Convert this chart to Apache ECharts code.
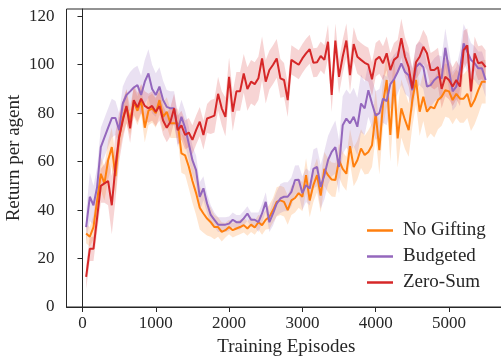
<!DOCTYPE html>
<html>
<head>
<meta charset="utf-8">
<script src="https://cdn.jsdelivr.net/npm/echarts@6/dist/echarts.min.js"></script>
<style>
  html, body { margin: 0; padding: 0; background: #fff; }
  #chart { width: 501px; height: 362px; }
</style>
</head>
<body>
<div id="chart"></div>
<script>
const episodes = [
  50, 100, 150, 200, 250, 300, 350, 400, 450, 500, 550, 600, 650, 700, 750, 800, 850, 900,
  950, 1000, 1050, 1100, 1150, 1200, 1250, 1300, 1350, 1400, 1450, 1500, 1550, 1600, 1650, 1700, 1750, 1800, 1850, 1900,
  1950, 2000, 2050, 2100, 2150, 2200, 2250, 2300, 2350, 2400, 2450, 2500, 2550, 2600, 2650, 2700, 2750, 2800, 2850, 2900, 2950,
  3000, 3050, 3100, 3150, 3200, 3250, 3300, 3350, 3400, 3450, 3500, 3550, 3600, 3650, 3700, 3750, 3800, 3850, 3900, 3950,
  4000, 4050, 4100, 4150, 4200, 4250, 4300, 4350, 4400, 4450, 4500, 4550, 4600, 4650, 4700, 4750, 4800, 4850, 4900, 4950, 5000,
  5050, 5100, 5150, 5200, 5250, 5300, 5350, 5400, 5450, 5500
];

const noGifting = [
  30.3, 29, 33, 44, 55, 51, 60.6, 66, 54, 70, 78, 82.6, 77, 84.7, 81, 85.4, 74, 81,
  82, 80, 85.4, 78.5, 80.6, 75.8, 75.8, 75.8, 63.4, 62.6, 58, 52, 47, 41, 38.6, 36.5, 35, 33, 33, 31,
  31.7, 33, 31.7, 32.4, 33, 33.8, 32.4, 34, 32.8, 35, 33.8, 36, 37.2, 40, 43.4, 44, 43.4, 40, 44, 45, 47,
  45.5, 54.4, 44, 50.3, 54.4, 46, 57, 54.4, 52.6, 52.4, 60.6, 57, 55, 66.4, 57.8, 60.6, 65.4, 62.7, 64, 66.8,
  80, 64.7, 84, 93.7, 71, 93.7, 69.6, 82, 77.2, 73, 85.4, 93.7, 80.6, 86.8, 80.6, 82.6, 82, 85.4, 86.8, 89.5, 89,
  85.4, 88, 86, 86, 88, 82.6, 85.4, 89.5, 93, 93
];
const budgeted = [
  33, 45.5, 42, 49.6, 66, 70, 74, 78, 78, 73, 84, 87.5, 89, 90.6, 91.6, 87.5, 93, 96.4,
  90, 87.5, 91, 85.4, 82.6, 82, 82, 73, 78.5, 74, 67.5, 60.6, 56.5, 45.5, 49, 42.7, 38, 36, 34, 34,
  34, 34.4, 36, 35, 35, 36.6, 38.6, 36, 36, 35, 38.6, 43.4, 35, 38.6, 42.7, 44.8, 45.5, 45.5, 47.5, 52.4, 52.5,
  47, 50.3, 48.9, 57, 57.8, 49.6, 54.4, 60.6, 64, 66, 57.8, 75, 77.8, 75.8, 78.5, 74.4, 84, 82, 89.5, 84,
  79, 80, 86, 85, 92, 94, 97, 100.6, 97, 95.7, 89.5, 99, 100.6, 99, 91, 91.6, 93.7, 95, 94.4, 107, 97.8,
  89, 91, 97.8, 108.8, 105.4, 102, 100.6, 98.5, 98.5, 93.7
];
const zeroSum = [
  12.4, 24, 24, 37, 50, 51, 52, 42, 58, 70, 77, 83, 73.7, 85.4, 82.4, 86, 83, 82,
  83, 80.6, 83, 77, 74, 76.5, 82, 73, 75, 71, 72, 69, 73, 76.5, 71, 77.8, 78.4, 79, 88, 82,
  78.5, 95, 80.6, 89, 89, 96.4, 90, 93, 92, 94.4, 102.6, 93, 97.8, 100, 102.6, 94.4, 93.7, 85.4, 102, 101, 100,
  102.6, 104.7, 106.4, 100.8, 101, 103.6, 102, 109.5, 87.5, 110, 95, 103.3, 110, 95.7, 108.5, 103.3, 102, 100.8, 100, 94,
  102, 103.3, 100.6, 104.7, 97.8, 102, 103.3, 111, 103.3, 99, 90.2, 101, 103.3, 107.4, 104.7, 97.8, 97.8, 99, 90, 95, 93.7,
  91, 93.7, 91, 106, 108, 89, 104.7, 100.6, 101, 99
];

// half-width of the shaded band around each curve
const noGiftingSpread = [
  4, 4, 5, 6, 7, 7, 8, 8, 8, 7, 7, 7, 6, 6, 6, 6, 6, 6,
  6, 6, 6, 6, 6, 6, 6, 6, 8, 8, 9, 9, 9, 9, 8, 7, 6, 5, 4, 4,
  3, 3, 3, 3, 3, 3, 3, 3, 3, 3, 4, 4, 5, 5, 6, 6, 6, 6, 6, 6, 6,
  6, 7, 7, 7, 7, 7, 7, 7, 7, 7, 7, 7, 7, 7, 8, 8, 8, 8, 9, 9,
  10, 10, 10, 11, 11, 12, 12, 12, 12, 11, 11, 10, 10, 10, 11, 11, 12, 12, 12, 11, 11,
  10, 10, 10, 10, 10, 10, 10, 10, 9, 9
];
const budgetedSpread = [
  6, 10, 8, 8, 8, 8, 8, 8, 7, 7, 7, 7, 8, 8, 8, 8, 9, 10,
  10, 9, 8, 8, 7, 7, 7, 7, 7, 7, 7, 6, 6, 6, 5, 4, 4, 3, 3, 3,
  3, 3, 3, 3, 3, 3, 3, 3, 3, 4, 4, 4, 4, 5, 5, 6, 6, 6, 6, 6, 6,
  7, 7, 7, 8, 8, 9, 10, 10, 10, 11, 11, 12, 12, 12, 12, 12, 12, 11, 11, 10,
  10, 10, 10, 10, 10, 10, 9, 9, 9, 9, 9, 9, 9, 9, 9, 9, 9, 9, 9, 8, 8,
  8, 8, 8, 8, 8, 7, 7, 7, 7, 7
];
const zeroSumSpread = [
  5, 5, 5, 6, 7, 8, 10, 12, 14, 10, 8, 7, 6, 6, 6, 6, 6, 6,
  6, 6, 6, 6, 6, 6, 6, 6, 6, 6, 6, 6, 6, 6, 6, 6, 7, 7, 7, 7,
  8, 8, 8, 8, 8, 8, 9, 9, 9, 9, 9, 9, 8, 8, 8, 8, 7, 7, 6, 6, 6,
  6, 6, 6, 6, 6, 6, 6, 7, 7, 7, 7, 7, 7, 7, 7, 7, 7, 7, 7, 7,
  7, 7, 7, 7, 7, 7, 7, 8, 8, 8, 8, 7, 7, 7, 7, 7, 8, 8, 8, 8, 8,
  8, 8, 8, 8, 7, 7, 7, 7, 7, 7
];

const xTicks = [0, 1000, 2000, 3000, 4000, 5000];
const yTicks = [0, 20, 40, 60, 80, 100, 120];

const font = "'Liberation Serif', 'DejaVu Serif', serif";
const axisColor = "#262626";

function band(name, mean, spread, fill) {
  return {
    type: "custom",
    name: name + " band",
    silent: true,
    z: 1,
    data: episodes.map((x, i) => [x, mean[i] - spread[i], mean[i] + spread[i]]),
    encode: { x: 0, y: [1, 2] },
    renderItem: (params, api) => {
      if (params.dataIndex !== 0) return;
      const upper = episodes.map((x, i) => api.coord([x, mean[i] + spread[i]]));
      const lower = episodes.map((x, i) => api.coord([x, mean[i] - spread[i]]));
      return {
        type: "polygon",
        shape: { points: upper.concat(lower.reverse()) },
        style: { fill: fill },
      };
    },
  };
}

function line(name, mean, color) {
  return {
    type: "line",
    name: name,
    z: 3,
    data: episodes.map((x, i) => [x, mean[i]]),
    showSymbol: false,
    lineStyle: { color: color, width: 2 },
    itemStyle: { color: color },
  };
}

const chart = echarts.init(document.getElementById("chart"), null, { renderer: "canvas" });
chart.setOption({
  animation: false,
  grid: {
    left: 66.5, right: -5, top: 9, bottom: 55,
    outerBoundsMode: "none",
    containLabel: false,
    show: true, borderColor: axisColor, borderWidth: 1,
  },
  legend: {
    orient: "vertical",
    left: 362, top: 216,
    itemWidth: 26, itemHeight: 2.5, itemGap: 7,
    icon: "rect",
    data: ["No Gifting", "Budgeted", "Zero-Sum"],
    textStyle: { fontFamily: font, fontSize: 19, color: "#262626", padding: [0, 0, 0, 5] },
  },
  xAxis: {
    type: "value",
    min: -218, max: 5778,
    name: "Training Episodes",
    nameLocation: "middle",
    nameGap: 31,
    nameMoveOverlap: false,
    nameTextStyle: { fontFamily: font, fontSize: 19, color: "#262626" },
    splitLine: { show: false },
    axisLine: { lineStyle: { color: axisColor, width: 1 } },
    axisTick: { length: 5, lineStyle: { color: axisColor }, customValues: xTicks },
    axisLabel: {
      fontFamily: font, fontSize: 17, color: "#262626", margin: 8,
      customValues: xTicks, formatter: (v) => String(v),
    },
  },
  yAxis: {
    type: "value",
    min: 0, max: 123,
    name: "Return per agent",
    nameLocation: "middle",
    nameGap: 43,
    nameMoveOverlap: false,
    nameTextStyle: { fontFamily: font, fontSize: 19, color: "#262626" },
    splitLine: { show: false },
    axisLine: { show: true, lineStyle: { color: axisColor, width: 1 } },
    axisTick: { show: true, length: 5, lineStyle: { color: axisColor }, customValues: yTicks },
    axisLabel: { fontFamily: font, fontSize: 17, color: "#262626", margin: 12, customValues: yTicks },
  },
  series: [
    band("No Gifting", noGifting, noGiftingSpread, "rgba(255,127,14,0.2)"),
    band("Budgeted", budgeted, budgetedSpread, "rgba(148,103,189,0.2)"),
    band("Zero-Sum", zeroSum, zeroSumSpread, "rgba(214,39,40,0.2)"),
    line("No Gifting", noGifting, "#ff7f0e"),
    line("Budgeted", budgeted, "#9467bd"),
    line("Zero-Sum", zeroSum, "#d62728"),
  ],
});
</script>
</body>
</html>
